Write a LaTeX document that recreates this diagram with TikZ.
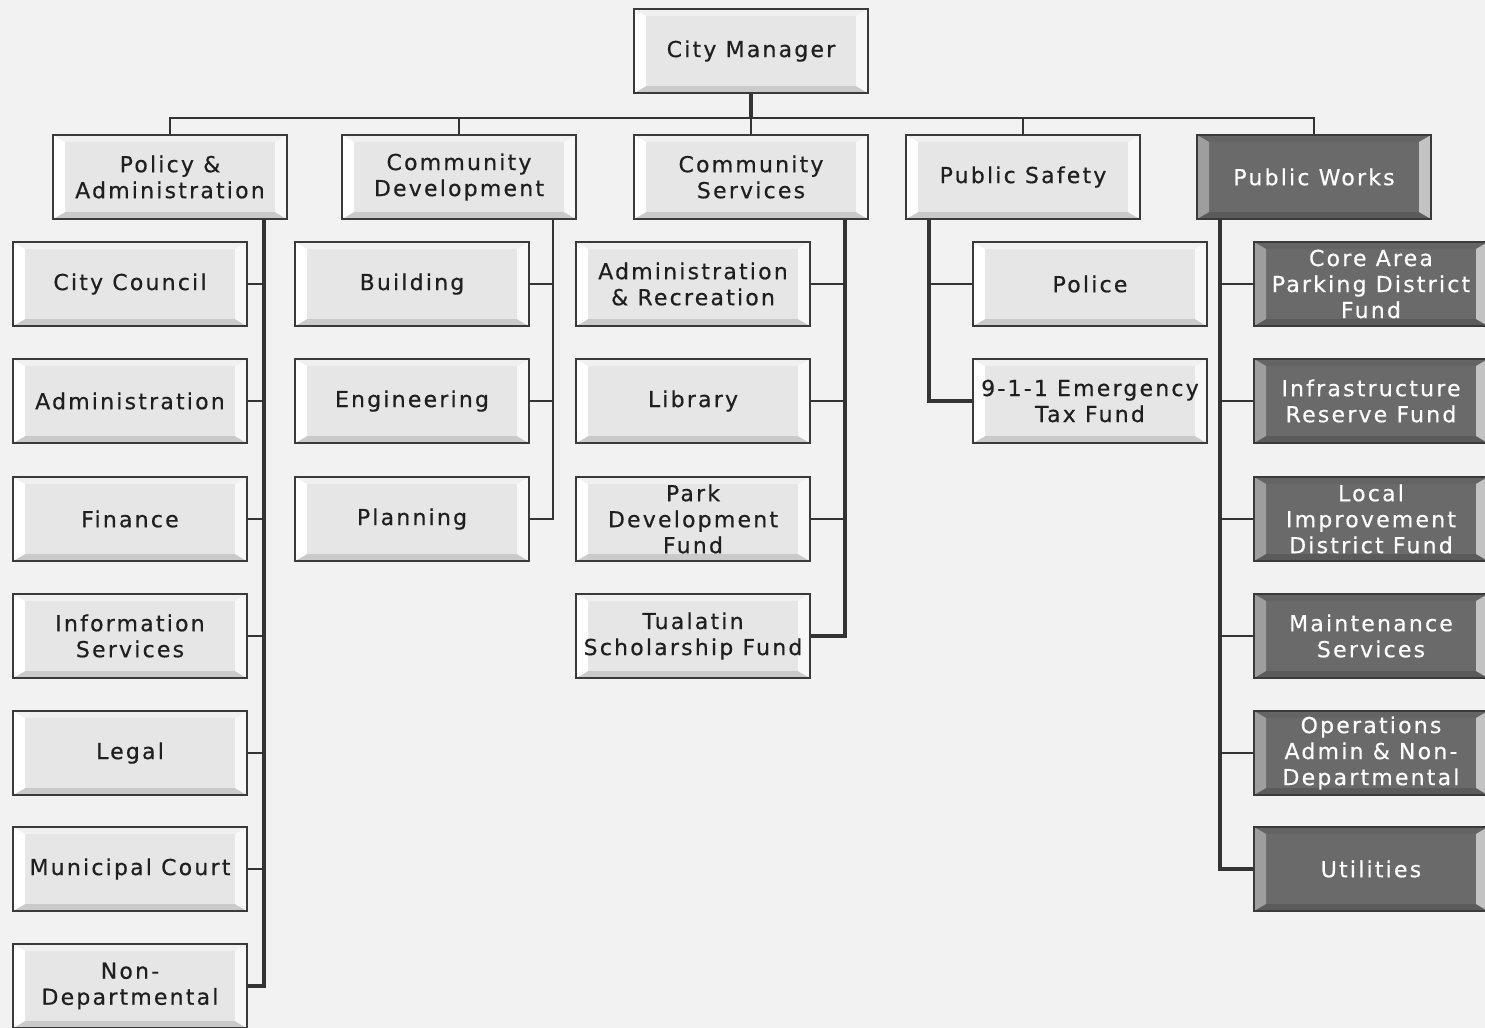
\documentclass[tikz,border=0pt]{standalone}
\usepackage{fontspec}
\setmainfont[LetterSpace=10,FakeBold=0.5]{DejaVu Sans}

\definecolor{pagegray}{HTML}{F2F2F2}
\definecolor{boxface}{HTML}{E6E6E6}
\definecolor{boxline}{HTML}{3A3A3A}
\definecolor{worksface}{HTML}{6A6A6A}
\definecolor{linkgray}{HTML}{333333}

\tikzset{
  bevel/.style n args={4}{path picture={
    \coordinate (bnw) at (path picture bounding box.north west);
    \coordinate (bne) at (path picture bounding box.north east);
    \coordinate (bsw) at (path picture bounding box.south west);
    \coordinate (bse) at (path picture bounding box.south east);
    \fill[#3] (bnw) -- (bne) -- ([shift={(-6pt,-3.5pt)}]bne) -- ([shift={(6pt,-3.5pt)}]bnw) -- cycle;
    \fill[#4] (bsw) -- (bse) -- ([shift={(-6pt,3.5pt)}]bse) -- ([shift={(6pt,3.5pt)}]bsw) -- cycle;
    \fill[#1] (bnw) -- ([shift={(6pt,-3.5pt)}]bnw) -- ([shift={(6pt,3.5pt)}]bsw) -- (bsw) -- cycle;
    \fill[#2] (bne) -- ([shift={(-6pt,-3.5pt)}]bne) -- ([shift={(-6pt,3.5pt)}]bse) -- (bse) -- cycle;
  }},
  unitbox/.style={draw=boxline, line width=1pt, fill=boxface,
    minimum width=117pt, minimum height=42pt, inner sep=1pt, align=center,
    font=\fontsize{11}{13}\selectfont, text=black!88,
    bevel={white}{white!70!boxface}{white!40!boxface}{black!12!boxface}},
  worksbox/.style={unitbox, fill=worksface, text=white,
    bevel={white!35!worksface}{white!60!worksface}{black!6!worksface}{black!14!worksface}},
  link/.style={draw=linkgray, line width=0.9pt},
  trunk/.style={draw=linkgray, line width=2.4pt},
}

\begin{document}
\begin{tikzpicture}[x=0.5pt, y=-0.5pt]
\fill[pagegray] (0,0) rectangle (1485,1028);
\useasboundingbox (0,0) rectangle (1485,1028);

% top
\node[unitbox] (cm) at (751,51) {City Manager};

% departments
\node[unitbox] (pa) at (170,177) {Policy \&\\Administration};
\node[unitbox] (cd) at (459,177) {Community\\Development};
\node[unitbox] (cs) at (751,177) {Community\\Services};
\node[unitbox] (ps) at (1023,177) {Public Safety};
\node[worksbox] (pw) at (1314,177) {Public Works};

% policy & administration
\node[unitbox] (council) at (130,284) {City Council};
\node[unitbox] (admin) at (130,401) {Administration};
\node[unitbox] (finance) at (130,519) {Finance};
\node[unitbox] (infosvc) at (130,636) {Information\\Services};
\node[unitbox] (legal) at (130,753) {Legal};
\node[unitbox] (court) at (130,869) {Municipal Court};
\node[unitbox] (nondept) at (130,986) {Non-\\Departmental};

% community development
\node[unitbox] (building) at (412,284) {Building};
\node[unitbox] (engineering) at (412,401) {Engineering};
\node[unitbox] (planning) at (412,519) {Planning};

% community services
\node[unitbox] (adminrec) at (693,284) {Administration\\\& Recreation};
\node[unitbox] (library) at (693,401) {Library};
\node[unitbox] (parkfund) at (693,519) {Park\\Development\\Fund};
\node[unitbox] (scholarship) at (693,636) {Tualatin\\Scholarship Fund};

% public safety
\node[unitbox] (police) at (1090,284) {Police};
\node[unitbox] (emergency) at (1090,401) {9-1-1 Emergency\\Tax Fund};

% public works
\node[worksbox] (parking) at (1371,284) {Core Area\\Parking District\\Fund};
\node[worksbox] (infra) at (1371,401) {Infrastructure\\Reserve Fund};
\node[worksbox] (lid) at (1371,519) {Local\\Improvement\\District Fund};
\node[worksbox] (maint) at (1371,636) {Maintenance\\Services};
\node[worksbox] (opsadmin) at (1371,753) {Operations\\Admin \& Non-\\Departmental};
\node[worksbox] (utilities) at (1371,869) {Utilities};

% connectors
\coordinate (bus) at (751,118);
\draw[trunk] (cm.south) -- (bus);
\draw[link] (pa.north) |- (bus) -| (pw.north);
\draw[link] (bus) -| (cd.north);
\draw[link] (bus) -- (cs.north);
\draw[link] (bus) -| (ps.north);

\draw[trunk] ([xshift=-12pt]pa.south east) |- (nondept.east);
\foreach \n in {council,admin,finance,infosvc,legal,court}
  \draw[link] (\n.east) -- ([xshift=-12pt]pa.south east |- \n.east);

\draw[link, line width=1.3pt] ([xshift=-12pt]cd.south east) |- (planning.east);
\foreach \n in {building,engineering}
  \draw[link] (\n.east) -- ([xshift=-12pt]cd.south east |- \n.east);

\draw[trunk] ([xshift=-12pt]cs.south east) |- (scholarship.east);
\foreach \n in {adminrec,library,parkfund}
  \draw[link] (\n.east) -- ([xshift=-12pt]cs.south east |- \n.east);

\draw[trunk] ([xshift=12pt]ps.south west) |- (emergency.west);
\draw[link] (police.west) -- ([xshift=12pt]ps.south west |- police.west);

\draw[trunk] ([xshift=12pt]pw.south west) |- (utilities.west);
\foreach \n in {parking,infra,lid,maint,opsadmin}
  \draw[link] (\n.west) -- ([xshift=12pt]pw.south west |- \n.west);

\end{tikzpicture}
\end{document}
